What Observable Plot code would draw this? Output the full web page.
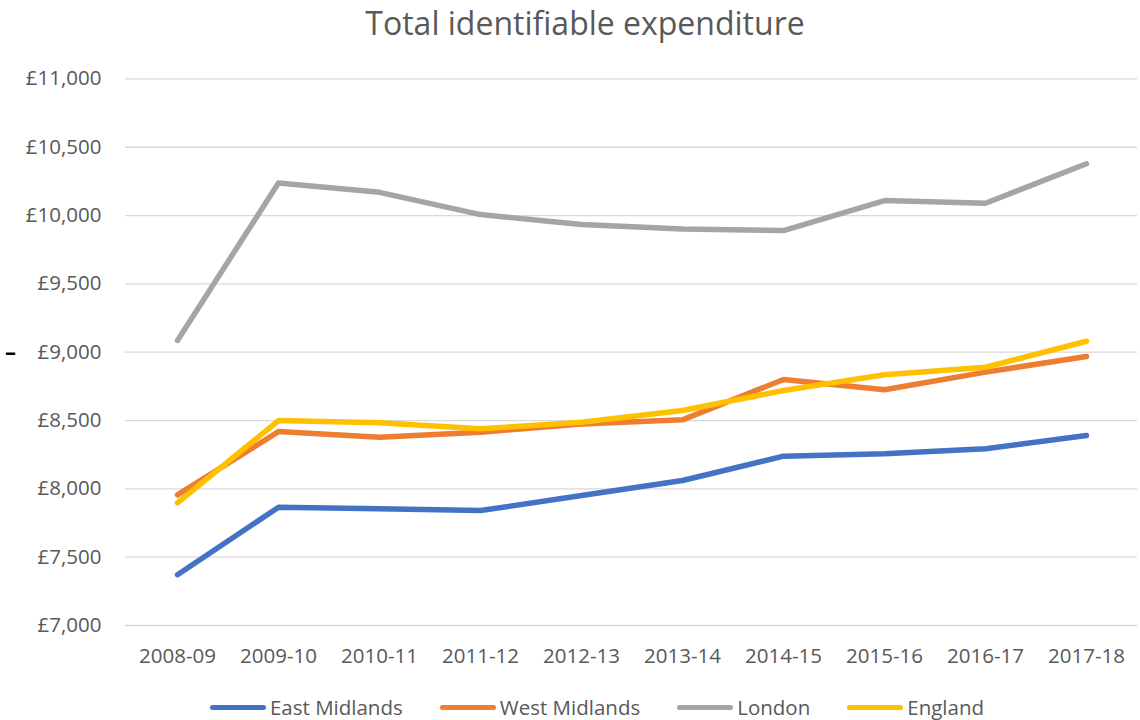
<!DOCTYPE html>
<html>
<head>
<meta charset="utf-8">
<script src="https://cdn.jsdelivr.net/npm/d3@7"></script>
<script src="https://cdn.jsdelivr.net/npm/@observablehq/plot@0.6"></script>
<style>
  html, body { margin: 0; padding: 0; background: #fff; }
  #wrap { position: relative; width: 1140px; height: 720px; font-family: "Open Sans", sans-serif; color: #595959; overflow: hidden; }
  #title { position: absolute; top: 0; left: 0; width: 1170px; text-align: center; font-size: 32px; line-height: 46px; color: #595959; }
  #chart { position: absolute; top: 0; left: 0; }
  #legend { position: absolute; top: 697px; left: 0; width: 1194px; display: flex; justify-content: center; gap: 37px; font-size: 20.5px; line-height: 21px; }
  .item { display: flex; align-items: center; gap: 4px; }
  .sw { width: 56px; height: 5px; border-radius: 3px; }
  #dash { position: absolute; left: 5px; top: 338px; font-size: 22px; font-weight: bold; color: #000; line-height: 26px; }
</style>
</head>
<body>
<div id="wrap">
  <div id="chart"></div>
  <div id="title">Total identifiable expenditure</div>
  <div id="dash">–</div>
  <div id="legend"></div>
</div>
<script>
const years = ["2008-09","2009-10","2010-11","2011-12","2012-13","2013-14","2014-15","2015-16","2016-17","2017-18"];
const eastMidlands = [7372, 7865, 7854, 7841, 7951, 8061, 8239, 8256, 8293, 8390];
const westMidlands = [7956, 8419, 8378, 8415, 8475, 8505, 8800, 8725, 8854, 8969];
const london       = [9086, 10239, 10170, 10007, 9934, 9902, 9890, 10110, 10090, 10379];
const england      = [7898, 8500, 8483, 8439, 8488, 8573, 8720, 8835, 8890, 9080];
const seriesNames  = ["East Midlands", "West Midlands", "London", "England"];
const seriesColors = ["#4472C4", "#ED7D31", "#A5A5A5", "#FFC000"];
const yTicks = [7000, 7500, 8000, 8500, 9000, 9500, 10000, 10500, 11000];

const seriesValues = [eastMidlands, westMidlands, london, england];
const rows = seriesNames.flatMap((name, i) =>
  years.map((year, j) => ({ series: name, year, value: seriesValues[i][j] }))
);

const fmt = d => "£" + d3.format(",")(d);

const chart = Plot.plot({
  width: 1140,
  height: 680,
  marginTop: 78.4,
  marginBottom: 55,
  marginLeft: 125,
  marginRight: 3,
  style: { fontFamily: "Open Sans, sans-serif", color: "#595959", background: "transparent" },
  x: { type: "point", domain: years, padding: 0.5, label: null },
  y: { domain: [7000, 11000], label: null },
  color: { domain: seriesNames, range: seriesColors },
  marks: [
    Plot.ruleY(yTicks, { stroke: "#D9D9D9", strokeWidth: 1.3 }),
    Plot.axisX({ tickSize: 0, tickPadding: 23, fontSize: 20.5, fill: "#595959", label: null }),
    Plot.axisY({ ticks: yTicks, tickSize: 0, tickPadding: 24, fontSize: 20.5, fill: "#595959", tickFormat: fmt, label: null }),
    Plot.line(rows, {
      x: "year", y: "value", z: "series", stroke: "series",
      strokeWidth: 5.5, strokeLinecap: "round", strokeLinejoin: "round"
    })
  ]
});
document.getElementById("chart").appendChild(chart);

const legend = document.getElementById("legend");
seriesNames.forEach((name, i) => {
  const item = document.createElement("div");
  item.className = "item";
  const sw = document.createElement("div");
  sw.className = "sw";
  sw.style.background = seriesColors[i];
  const label = document.createElement("span");
  label.textContent = name;
  item.appendChild(sw);
  item.appendChild(label);
  legend.appendChild(item);
});
</script>
</body>
</html>
